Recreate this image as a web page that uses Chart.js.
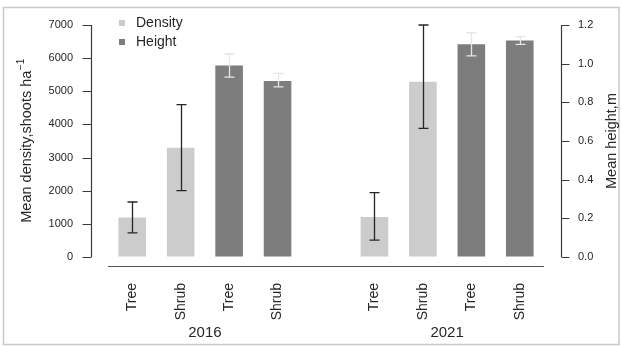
<!DOCTYPE html>
<html>
<head>
<meta charset="utf-8">
<script src="https://cdn.jsdelivr.net/npm/chart.js@4.4.0/dist/chart.umd.min.js"></script>
<style>
  html, body { margin: 0; padding: 0; background: #fff; }
  #wrap { position: relative; width: 622px; height: 347px; }
</style>
</head>
<body>
<div id="wrap"><canvas id="c" width="622" height="347"></canvas></div>
<script>
// Categories along the x axis (one empty slot separates the two survey years)
const categories = ['Tree', 'Shrub', 'Tree', 'Shrub', '', 'Tree', 'Shrub', 'Tree', 'Shrub'];
const yearLabels = ['2016', '2021'];
const yearGroups = [[0, 1, 2, 3], [5, 6, 7, 8]];

// Mean shoot density (shoots per ha), left axis
const densityMean = [1190, 3300, null, null, null, 1210, 5290, null, null];
const densityLow  = [730, 2000, null, null, null, 510, 3880, null, null];
const densityHigh = [1660, 4600, null, null, null, 1940, 7000, null, null];

// Mean height (m), right axis
const heightMean = [null, null, 0.99, 0.91, null, null, null, 1.10, 1.12];
const heightLow  = [null, null, 0.93, 0.88, null, null, null, 1.04, 1.10];
const heightHigh = [null, null, 1.05, 0.95, null, null, null, 1.16, 1.14];

// Axis ranges and tick steps
const densityMax = 7000, densityStep = 1000;
const heightMax = 1.2, heightStep = 0.2;

const FONT = '"Liberation Sans", Arial, Helvetica, sans-serif';
const TEXT = '#262626';
const LIGHT = '#cccccc';
const DARK = '#7d7d7d';

// Outer frame, axis lines with tick marks, baseline, titles, legend and year labels
const decorations = {
  id: 'decorations',
  beforeDraw(chart) {
    const ctx = chart.ctx;
    ctx.save();
    ctx.fillStyle = '#fff';
    ctx.fillRect(0, 0, chart.width, chart.height);
    ctx.strokeStyle = '#c9c9c9';
    ctx.lineWidth = 1.5;
    ctx.strokeRect(3.5, 7.5, 615.5, 337);
    ctx.restore();
  },
  afterDraw(chart) {
    const ctx = chart.ctx;
    const ca = chart.chartArea;
    const x = chart.scales.x, y = chart.scales.y, y1 = chart.scales.y1;
    ctx.save();
    ctx.strokeStyle = '#3a3a3a';
    ctx.lineWidth = 1.2;

    // left axis
    const lx = Math.round(ca.left - 17) + 0.5;
    ctx.beginPath();
    ctx.moveTo(lx, y.getPixelForValue(0));
    ctx.lineTo(lx, y.getPixelForValue(densityMax));
    y.ticks.forEach(t => {
      const py = Math.round(y.getPixelForValue(t.value)) + 0.5;
      ctx.moveTo(lx - 9, py);
      ctx.lineTo(lx, py);
    });
    ctx.stroke();

    // right axis
    const rx = Math.round(ca.right + 17) + 0.5;
    ctx.beginPath();
    ctx.moveTo(rx, y1.getPixelForValue(0));
    ctx.lineTo(rx, y1.getPixelForValue(heightMax));
    y1.ticks.forEach(t => {
      const py = Math.round(y1.getPixelForValue(t.value)) + 0.5;
      ctx.moveTo(rx, py);
      ctx.lineTo(rx + 8, py);
    });
    ctx.stroke();

    // baseline under the bars
    ctx.strokeStyle = '#555';
    ctx.beginPath();
    const by = Math.round(ca.bottom + 9) + 0.5;
    ctx.moveTo(x.left, by);
    ctx.lineTo(x.right, by);
    ctx.stroke();

    // axis titles
    ctx.fillStyle = TEXT;
    const cy = (ca.top + ca.bottom) / 2;
    const main = 'Mean density,shoots ha';
    ctx.font = '14.5px ' + FONT;
    const wMain = ctx.measureText(main).width;
    ctx.font = '10px ' + FONT;
    const sup = '\u22121';
    const wSup = ctx.measureText(sup).width;
    ctx.save();
    ctx.translate(27, cy);
    ctx.rotate(-Math.PI / 2);
    ctx.textBaseline = 'middle';
    ctx.textAlign = 'left';
    const start = -(wMain + wSup) / 2;
    ctx.font = '14.5px ' + FONT;
    ctx.fillText(main, start, 0);
    ctx.font = '10px ' + FONT;
    ctx.fillText(sup, start + wMain + 0.5, -6);
    ctx.restore();

    ctx.save();
    ctx.translate(612, cy);
    ctx.rotate(-Math.PI / 2);
    ctx.textAlign = 'center';
    ctx.textBaseline = 'middle';
    ctx.font = '14.5px ' + FONT;
    ctx.fillText('Mean height,m', 0, 0);
    ctx.restore();

    // legend
    const items = [[chart.data.datasets[0].label, LIGHT], [chart.data.datasets[1].label, DARK]];
    items.forEach((it, i) => {
      const iy = 23 + i * 19;
      ctx.fillStyle = it[1];
      ctx.fillRect(119, iy - 3, 6, 6);
      ctx.fillStyle = TEXT;
      ctx.font = '14px ' + FONT;
      ctx.textAlign = 'left';
      ctx.textBaseline = 'middle';
      ctx.fillText(it[0], 136, iy + 0.5);
    });

    // year labels under each group
    ctx.font = '15px ' + FONT;
    ctx.textAlign = 'center';
    ctx.textBaseline = 'middle';
    yearGroups.forEach((g, k) => {
      const px = g.reduce((s, i) => s + x.getPixelForValue(i), 0) / g.length;
      ctx.fillText(yearLabels[k], px, 333);
    });
    ctx.restore();
  }
};

// Whiskers for the standard errors
const errorBars = {
  id: 'errorBars',
  afterDatasetsDraw(chart) {
    const ctx = chart.ctx;
    const x = chart.scales.x;
    const sets = [
      { low: densityLow, high: densityHigh, scale: chart.scales.y, color: '#262626' },
      { low: heightLow, high: heightHigh, scale: chart.scales.y1, color: '#e6e6e6' }
    ];
    ctx.save();
    ctx.lineWidth = 1.3;
    sets.forEach(s => {
      ctx.strokeStyle = s.color;
      s.low.forEach((lo, i) => {
        if (lo == null) return;
        const px = Math.round(x.getPixelForValue(i)) + 0.5;
        const y0 = s.scale.getPixelForValue(lo);
        const y1 = s.scale.getPixelForValue(s.high[i]);
        ctx.beginPath();
        ctx.moveTo(px, y0); ctx.lineTo(px, y1);
        ctx.moveTo(px - 5, y0); ctx.lineTo(px + 5, y0);
        ctx.moveTo(px - 5, y1); ctx.lineTo(px + 5, y1);
        ctx.stroke();
      });
    });
    ctx.restore();
  }
};

// Invisible tick marks keep the tick labels away from the plot area
const hiddenTickGrid = (len) => ({
  display: true,
  drawOnChartArea: false,
  drawTicks: true,
  tickLength: len,
  color: 'rgba(0,0,0,0)',
  tickColor: 'rgba(0,0,0,0)'
});

new Chart(document.getElementById('c'), {
  type: 'bar',
  data: {
    labels: categories,
    datasets: [
      {
        label: 'Density',
        data: densityMean,
        yAxisID: 'y',
        backgroundColor: LIGHT,
        grouped: false,
        barPercentage: 0.57,
        categoryPercentage: 1.0
      },
      {
        label: 'Height',
        data: heightMean,
        yAxisID: 'y1',
        backgroundColor: DARK,
        grouped: false,
        barPercentage: 0.57,
        categoryPercentage: 1.0
      }
    ]
  },
  options: {
    responsive: false,
    animation: false,
    devicePixelRatio: 1,
    layout: { padding: { top: 25, left: 0, right: 0, bottom: 0 } },
    plugins: { legend: { display: false }, tooltip: { enabled: false } },
    scales: {
      x: {
        grid: { display: false, drawTicks: false },
        border: { display: false },
        ticks: {
          autoSkip: false,
          maxRotation: 90,
          minRotation: 90,
          padding: 26,
          color: TEXT,
          font: { family: FONT, size: 14 }
        },
        afterFit(s) { s.height = 90; }
      },
      y: {
        position: 'left',
        min: 0,
        max: densityMax,
        grid: hiddenTickGrid(35),
        border: { display: false },
        ticks: {
          stepSize: densityStep,
          padding: 0,
          color: TEXT,
          font: { family: FONT, size: 11 },
          callback: v => String(v)
        },
        afterFit(s) { s.width = 108; }
      },
      y1: {
        position: 'right',
        min: 0,
        max: heightMax,
        grid: hiddenTickGrid(34),
        border: { display: false },
        ticks: {
          stepSize: heightStep,
          padding: 0,
          color: TEXT,
          font: { family: FONT, size: 11 },
          callback: v => Number(v).toFixed(1)
        },
        afterFit(s) { s.width = 78; }
      }
    }
  },
  plugins: [decorations, errorBars]
});
</script>
</body>
</html>
